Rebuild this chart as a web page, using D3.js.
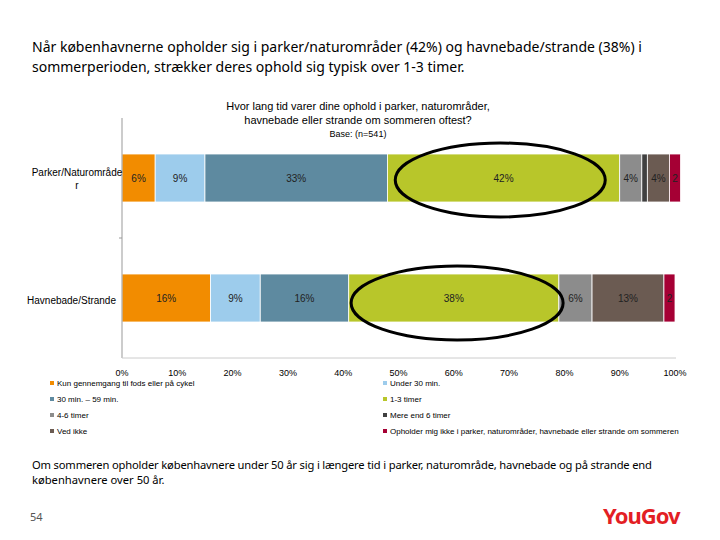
<!DOCTYPE html>
<html>
<head>
<meta charset="utf-8">
<script src="https://d3js.org/d3.v7.min.js"></script>
<style>
  body { margin: 0; background: #fff; }
  svg { display: block; font-family: "Liberation Sans", Arial, sans-serif; }
</style>
</head>
<body>
<svg width="720" height="540"></svg>
<script>
const categories = ["Parker/Naturområde r", "Havnebade/Strande"];
const seriesNames = ["Kun gennemgang til fods eller på cykel", "Under 30 min.", "30 min. – 59 min.", "1-3 timer",
  "4-6 timer", "Mere end 6 timer", "Ved ikke", "Opholder mig ikke i parker, naturområder, havnebade eller strande om sommeren"];
const colors = ["#f28c00", "#9dccec", "#5e8aa0", "#b8c62a", "#8c8c8c", "#404040", "#6b5b52", "#a50034"];
const values = [
  [6, 9, 33, 42, 4, 1, 4, 2],
  [16, 9, 16, 38, 6, 0, 13, 2]
];
const labels = [
  ["6%", "9%", "33%", "42%", "4%", "", "4%", "2"],
  ["16%", "9%", "16%", "38%", "6%", "", "13%", "2"]
];
const ticks = [0, 10, 20, 30, 40, 50, 60, 70, 80, 90, 100];

const svg = d3.select("svg");
const x = d3.scaleLinear().domain([0, 100]).range([122, 675]);
const y = d3.scaleBand().domain(categories).range([118, 358]).paddingInner(0.6).paddingOuter(0.3);

// heading
svg.append("text").attr("x", 32).attr("y", 52).attr("font-family", "Noto Sans").attr("font-size", 14)
  .text("Når københavnerne opholder sig i parker/naturområder (42%) og havnebade/strande (38%) i");
svg.append("text").attr("x", 32).attr("y", 72).attr("font-family", "Noto Sans").attr("font-size", 14)
  .text("sommerperioden, strækker deres ophold sig typisk over 1-3 timer.");

svg.append("text").attr("x", 358).attr("y", 110).attr("text-anchor", "middle").attr("font-size", 11)
  .text("Hvor lang tid varer dine ophold i parker, naturområder,");
svg.append("text").attr("x", 358).attr("y", 124).attr("text-anchor", "middle").attr("font-size", 11)
  .text("havnebade eller strande om sommeren oftest?");
svg.append("text").attr("x", 358).attr("y", 137).attr("text-anchor", "middle").attr("font-size", 9)
  .text("Base: (n=541)");

// bars
categories.forEach((c, i) => {
  let acc = 0;
  values[i].forEach((v, j) => {
    if (v === 0) return;
    const x0 = x(acc), x1 = x(acc + v);
    svg.append("rect").attr("x", x0).attr("y", y(c)).attr("width", x1 - x0).attr("height", y.bandwidth())
      .attr("fill", colors[j]).attr("stroke", "#fff").attr("stroke-width", 0.8);
    if (labels[i][j]) {
      svg.append("text").attr("x", (x0 + x1) / 2).attr("y", y(c) + y.bandwidth() / 2 + 4)
        .attr("text-anchor", "middle").attr("font-size", 10).attr("fill", "#222").text(labels[i][j]);
    }
    acc += v;
  });
});

// axes
svg.append("line").attr("x1", 122).attr("x2", 122).attr("y1", 118).attr("y2", 358).attr("stroke", "#999");
svg.append("line").attr("x1", 119).attr("x2", 122).attr("y1", 238).attr("y2", 238).attr("stroke", "#999");
svg.append("line").attr("x1", 122).attr("x2", 676).attr("y1", 358).attr("y2", 358).attr("stroke", "#ccc");
svg.selectAll(".tick").data(ticks).join("text")
  .attr("x", d => x(d)).attr("y", 376).attr("text-anchor", "middle").attr("font-size", 9).text(d => d + "%");
svg.append("text").attr("x", 77).attr("y", 176).attr("text-anchor", "middle").attr("font-size", 10).text("Parker/Naturområde");
svg.append("text").attr("x", 77).attr("y", 189).attr("text-anchor", "middle").attr("font-size", 10).text("r");
svg.append("text").attr("x", 116).attr("y", 304).attr("text-anchor", "end").attr("font-size", 10).text("Havnebade/Strande");

// ellipses around the 1-3 timer segments
svg.append("ellipse").attr("cx", x(68.4)).attr("cy", 180)
  .attr("rx", 105).attr("ry", 37).attr("fill", "none").attr("stroke", "#000").attr("stroke-width", 3);
svg.append("ellipse").attr("cx", x(60.6)).attr("cy", 303)
  .attr("rx", 106).attr("ry", 37).attr("fill", "none").attr("stroke", "#000").attr("stroke-width", 3);

// legend
seriesNames.forEach((s, i) => {
  const lx = i % 2 === 0 ? 50 : 383, ly = 386 + Math.floor(i / 2) * 16;
  svg.append("rect").attr("x", lx).attr("y", ly - 5).attr("width", 4).attr("height", 4).attr("fill", colors[i]);
  svg.append("text").attr("x", lx + 7).attr("y", ly).attr("font-size", 8).text(s);
});

// footer
svg.append("text").attr("x", 32).attr("y", 469).attr("font-family", "Noto Sans").attr("font-size", 11.2)
  .attr("textLength", 620).text("Om sommeren opholder københavnere under 50 år sig i længere tid i parker, naturområde, havnebade og på strande end");
svg.append("text").attr("x", 32).attr("y", 484).attr("font-family", "Noto Sans").attr("font-size", 11.2)
  .text("københavnere over 50 år.");
svg.append("text").attr("x", 30).attr("y", 521).attr("font-family", "Noto Sans").attr("font-size", 11).attr("fill", "#555").text("54");
svg.append("text").attr("x", 603).attr("y", 524).attr("font-family", "Noto Sans").attr("font-weight", "bold")
  .attr("font-size", 22).attr("fill", "#e31e24").attr("letter-spacing", -1).text("YouGov");
</script>
</body>
</html>
